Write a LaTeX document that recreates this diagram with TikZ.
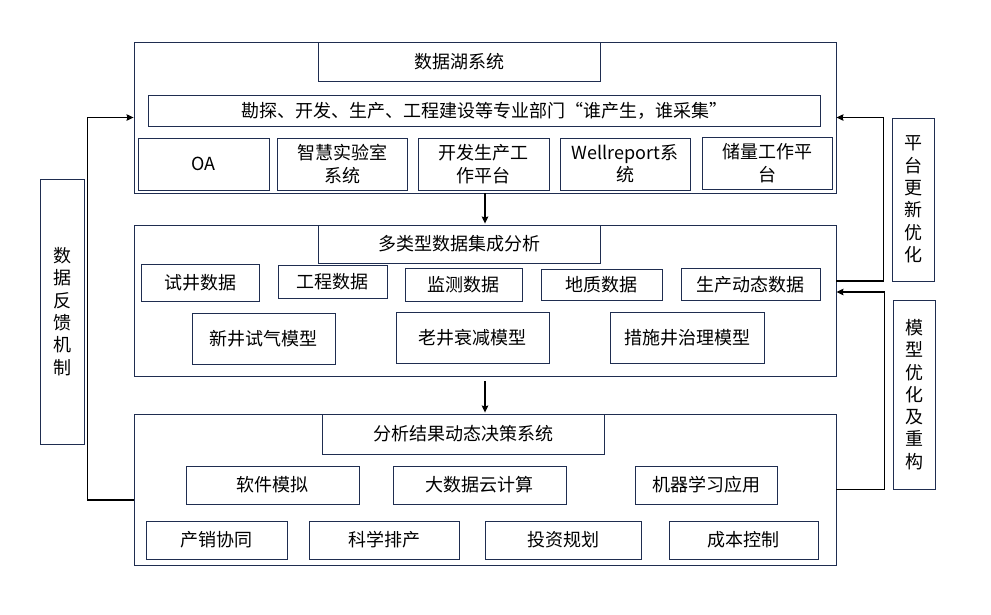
\documentclass[tikz,border=0pt]{standalone}
\usepackage{fontspec}
\setmainfont{Noto Sans CJK SC}
\usetikzlibrary{calc}
\usetikzlibrary{arrows.meta}
\definecolor{boxline}{HTML}{1F2D50}
\tikzset{
  box/.style={draw=boxline, line width=0.9pt, inner sep=0pt, align=center,
    font=\fontsize{18}{22.3}\selectfont},
  conn/.style={black, line width=1.1pt, >={Stealth[length=7pt,width=6.5pt,inset=0.8pt]}},
}

\begin{document}
\begin{tikzpicture}[x=1pt,y=-1pt]
\useasboundingbox (0,0) rectangle (991,614);

% three layers
\node[box, minimum width=702, minimum height=151] (lake)   at (485,117.5) {};
\node[box, minimum width=702, minimum height=151] (integ)  at (485,300.5) {};
\node[box, minimum width=702, minimum height=151] (decide) at (485,489.5) {};

% layer 1
\node[box, minimum width=282, minimum height=39] (lakeT) at (459,61.5) {数据湖系统};
\node[box, minimum width=672, minimum height=31] (dept)  at (484,110.5) {勘探、开发、生产、工程建设等专业部门“谁产生，谁采集”};
\node[box, minimum width=131, minimum height=52] (oa)    at (203.5,164) {OA};
\node[box, minimum width=130, minimum height=52] (lab)   at (342,164) {智慧实验室\\系统};
\node[box, minimum width=131, minimum height=52] (plat)  at (483.5,164) {开发生产工\\作平台};
\node[box, minimum width=130, minimum height=52] (well)  at (625,164) {Wellreport系\\统};
\node[box, minimum width=130, minimum height=52] (resv)  at (767,163) {储量工作平\\台};

% layer 2
\node[box, minimum width=282, minimum height=38] (integT) at (459,244) {多类型数据集成分析};
\node[box, minimum width=118, minimum height=37] (test)   at (200,282.5) {试井数据};
\node[box, minimum width=109, minimum height=33] (eng)    at (332.5,281.5) {工程数据};
\node[box, minimum width=117, minimum height=33] (mon)    at (463.5,284.5) {监测数据};
\node[box, minimum width=121, minimum height=31] (geo)    at (601.5,284.5) {地质数据};
\node[box, minimum width=139, minimum height=32] (prod)   at (750.5,284.5) {生产动态数据};
\node[box, minimum width=143, minimum height=51] (newm)   at (263.5,338.5) {新井试气模型};
\node[box, minimum width=153, minimum height=51] (oldm)   at (472.5,337.5) {老井衰减模型};
\node[box, minimum width=154, minimum height=51] (treat)  at (687,337.5) {措施井治理模型};

% layer 3
\node[box, minimum width=282, minimum height=40] (decideT) at (463,434) {分析结果动态决策系统};
\node[box, minimum width=173, minimum height=38] (soft)  at (272.5,485) {软件模拟};
\node[box, minimum width=173, minimum height=38] (cloud) at (479.5,485) {大数据云计算};
\node[box, minimum width=142, minimum height=38] (ml)    at (706,485) {机器学习应用};
\node[box, minimum width=141, minimum height=38] (sale)  at (216.5,540) {产销协同};
\node[box, minimum width=150, minimum height=38] (sched) at (384,540) {科学排产};
\node[box, minimum width=156, minimum height=38] (inv)   at (563,540) {投资规划};
\node[box, minimum width=149, minimum height=38] (cost)  at (743.5,540) {成本控制};

% side labels
\node[box, minimum width=44, minimum height=265] (fb)   at (62,311.5) {数\\据\\反\\馈\\机\\制};
\node[box, minimum width=42, minimum height=163] (upd)  at (913,199.5) {平\\台\\更\\新\\优\\化};
\node[box, minimum width=42, minimum height=189] (rebd) at (914,394.5) {模\\型\\优\\化\\及\\重\\构};

% flows
\draw[conn, ->] (lake.south) -- ([yshift=1pt]integ.north);
\draw[conn, ->] ([yshift=-5pt]integ.south) -- ([yshift=1pt]decide.north);
\draw[conn, ->] ([yshift=-10.5pt]decide.west) -- ++(-46,0) |- (lake.west);
\draw[conn, ->] ([yshift=19.5pt]integ.east) -- ++(47,0) |- (lake.east);
\draw[conn, ->] (decide.east) -- ++(48,0) |- ([yshift=8.5pt]integ.east);
\end{tikzpicture}
\end{document}
